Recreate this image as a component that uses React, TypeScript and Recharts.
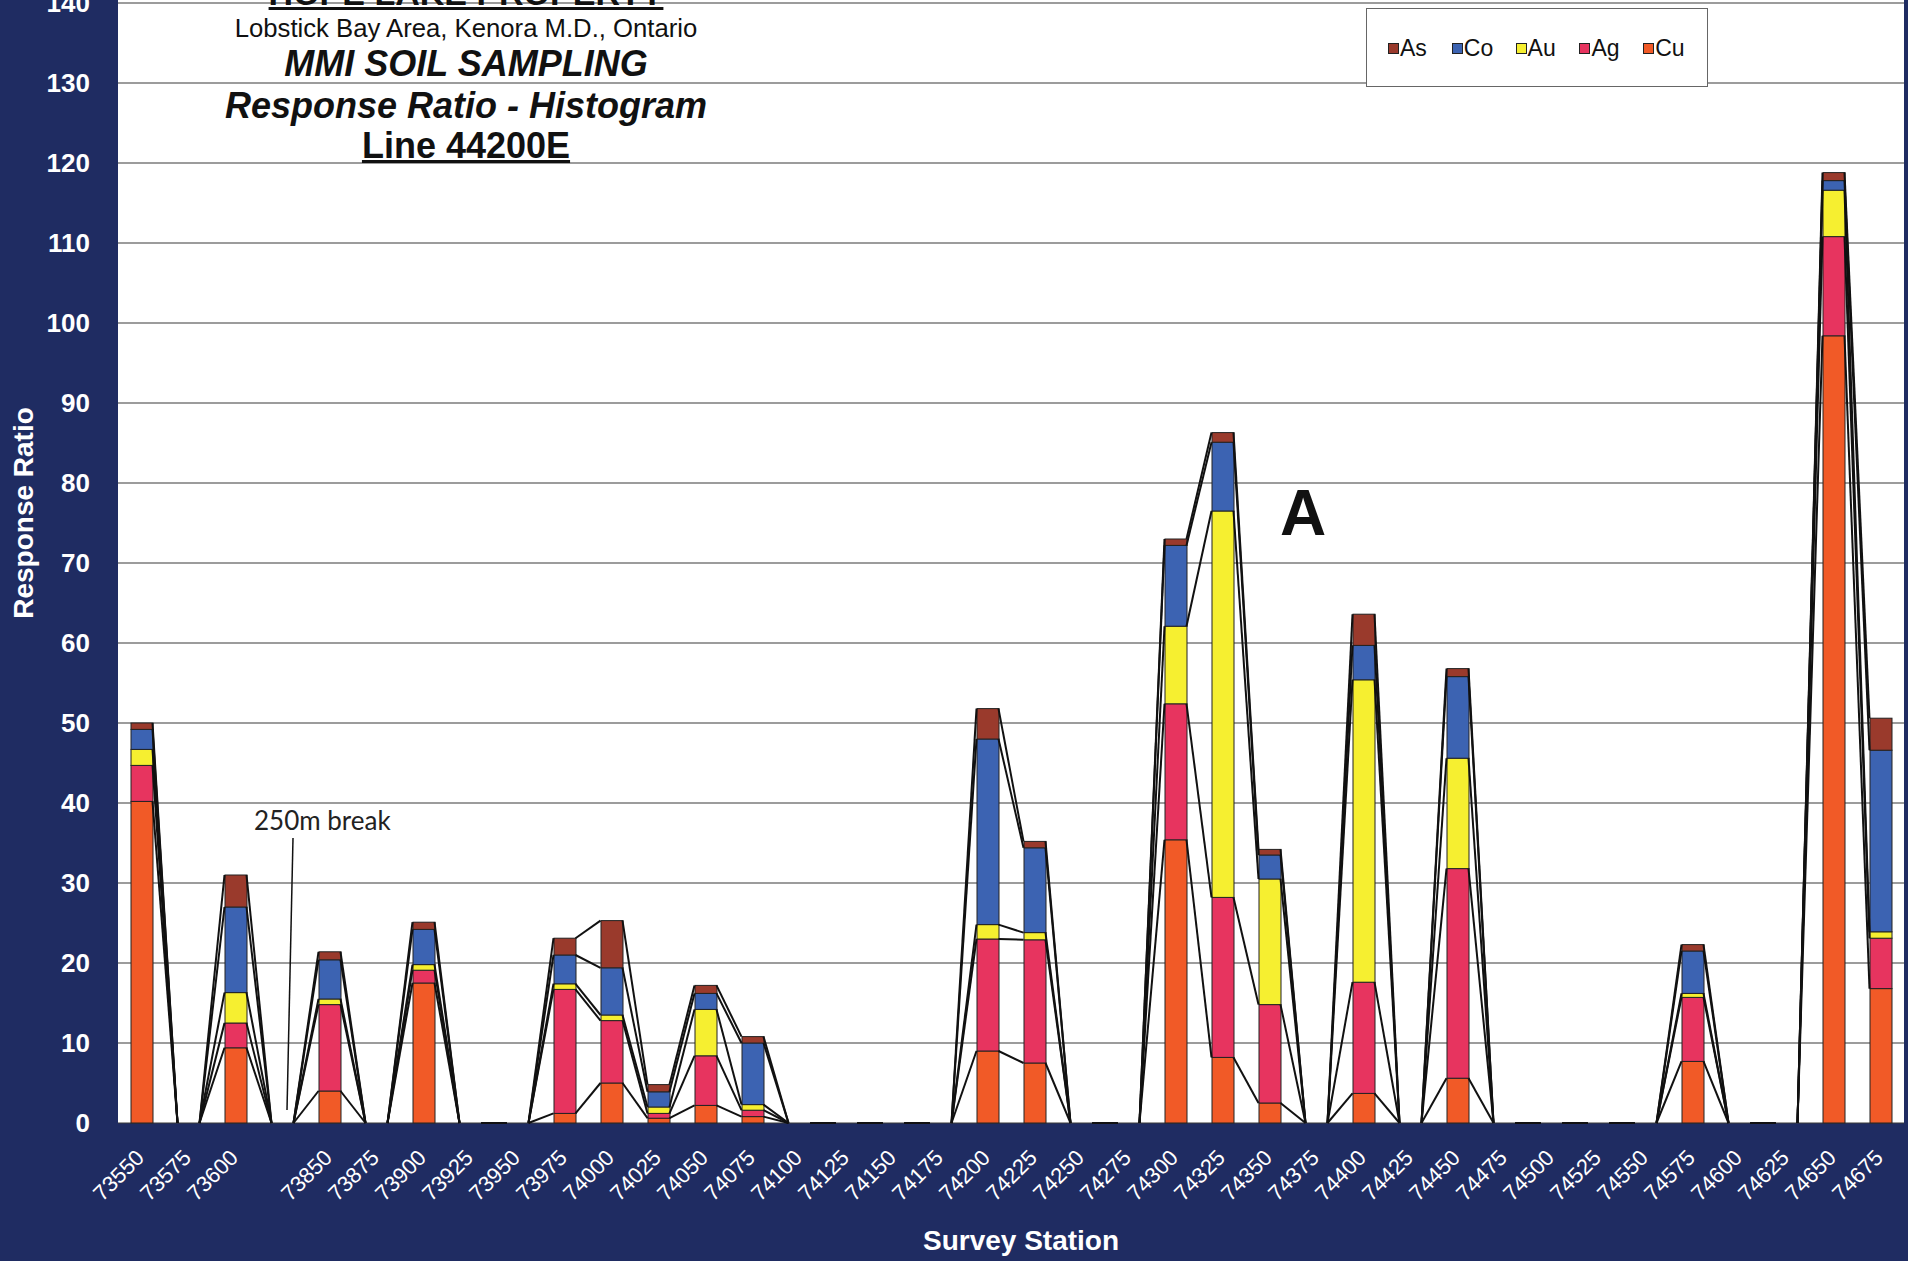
import React from 'react'
import {
  BarChart, Bar, XAxis, YAxis, CartesianGrid, Legend, ReferenceLine,
} from 'recharts'

// Survey stations along line 44200E; 'gap' is the empty slot at the 250m break
const STATIONS = [
  '73550', '73575', '73600', 'gap', '73850', '73875', '73900', '73925', '73950', '73975',
  '74000', '74025', '74050', '74075', '74100', '74125', '74150', '74175', '74200', '74225',
  '74250', '74275', '74300', '74325', '74350', '74375', '74400', '74425', '74450', '74475',
  '74500', '74525', '74550', '74575', '74600', '74625', '74650', '74675',
]

// Response ratios per element (stacked bottom → top: Cu, Ag, Au, Co, As)
const CU = [40.2, 0, 9.4, 0, 4.0, 0, 17.5, 0, 0, 1.2, 5.0, 0.6, 2.2, 0.8, 0, 0, 0, 0, 9.0, 7.5, 0, 0, 35.4, 8.2, 2.5, 0, 3.7, 0, 5.6, 0, 0, 0, 0, 7.7, 0, 0, 98.4, 16.8]
const AG = [4.5, 0, 3.1, 0, 10.8, 0, 1.6, 0, 0, 15.5, 7.8, 0.6, 6.2, 0.8, 0, 0, 0, 0, 14.0, 15.4, 0, 0, 17.0, 20.0, 12.3, 0, 13.9, 0, 26.2, 0, 0, 0, 0, 8.0, 0, 0, 12.4, 6.3]
const AU = [2.0, 0, 3.8, 0, 0.7, 0, 0.7, 0, 0, 0.7, 0.7, 0.8, 5.8, 0.7, 0, 0, 0, 0, 1.8, 0.9, 0, 0, 9.7, 48.3, 15.7, 0, 37.8, 0, 13.8, 0, 0, 0, 0, 0.5, 0, 0, 5.8, 0.8]
const CO = [2.5, 0, 10.7, 0, 4.9, 0, 4.4, 0, 0, 3.6, 5.9, 1.9, 2.0, 7.7, 0, 0, 0, 0, 23.2, 10.6, 0, 0, 10.1, 8.6, 3.0, 0, 4.3, 0, 10.2, 0, 0, 0, 0, 5.3, 0, 0, 1.2, 22.7]
const AS = [0.8, 0, 4.0, 0, 1.0, 0, 0.9, 0, 0, 2.1, 5.9, 0.9, 1.0, 0.8, 0, 0, 0, 0, 3.8, 0.8, 0, 0, 0.8, 1.2, 0.7, 0, 3.9, 0, 1.0, 0, 0, 0, 0, 0.8, 0, 0, 1.0, 4.0]

const Y_TICKS = [0, 10, 20, 30, 40, 50, 60, 70, 80, 90, 100, 110, 120, 130, 140, 150]
const LEGEND_ORDER = ['As', 'Co', 'Au', 'Ag', 'Cu']

const SERIES = [
  { key: 'Cu', values: CU, color: '#f15a27' },
  { key: 'Ag', values: AG, color: '#e7345f' },
  { key: 'Au', values: AU, color: '#f6ef30' },
  { key: 'Co', values: CO, color: '#3c63b2' },
  { key: 'As', values: AS, color: '#9a3a2c' },
]

const NAVY = '#1f2c62'
const FONT = '"Liberation Sans", Arial, sans-serif'
const BAR_SIZE = 22
const HALF = BAR_SIZE / 2

const data = STATIONS.map((station, i) => {
  const row: Record<string, string | number> = { station }
  SERIES.forEach(s => { row[s.key] = s.values[i] })
  return row
})

// cumulative top of each stacked segment, used for Excel-style series lines
const tops = SERIES.map((_, k) =>
  STATIONS.map((_, i) => SERIES.slice(0, k + 1).reduce((sum, s) => sum + s.values[i], 0)),
)

const SeriesLine = (p: any) => (
  <line x1={p.x1 + HALF} y1={p.y1} x2={p.x2 - HALF} y2={p.y2} stroke="#111" strokeWidth={2} />
)

// segments with no value are not drawn (Excel leaves them empty)
const Segment = (p: any) => {
  if (!p.height || p.height <= 0) return <g />
  return <rect x={p.x} y={p.y} width={p.width} height={p.height} fill={p.fill} stroke="#222" strokeWidth={1} />
}

const StationTick = ({ x, y, payload }: any) => {
  if (payload.value === 'gap') return <g />
  const tx = x + 4
  const ty = y + 36
  return (
    <text x={tx} y={ty} transform={`rotate(-45 ${tx} ${ty})`} textAnchor="end"
      fill="#fff" fontSize={22} fontFamily={FONT}>
      {payload.value}
    </text>
  )
}

const YTitle = (props: any) => {
  const vb = props.viewBox || { y: 23, height: 1200 }
  const cx = 23
  const cy = vb.y + vb.height / 2 - 10
  return (
    <text x={cx} y={cy} transform={`rotate(-90 ${cx} ${cy})`} textAnchor="middle"
      dominantBaseline="central" fill="#fff" fontSize={28} fontWeight="bold" fontFamily={FONT}>
      Response Ratio
    </text>
  )
}

const XTitle = (props: any) => {
  const vb = props.viewBox || { x: 118, y: 1223, width: 1786 }
  return (
    <text x={vb.x + vb.width / 2 + 10} y={vb.y + 117} textAnchor="middle"
      dominantBaseline="central" fill="#fff" fontSize={28} fontWeight="bold" fontFamily={FONT}>
      Survey Station
    </text>
  )
}

const renderLegend = ({ payload }: any) => {
  const items = [...(payload || [])].sort(
    (a: any, b: any) => LEGEND_ORDER.indexOf(a.value) - LEGEND_ORDER.indexOf(b.value),
  )
  return (
    <div style={{
      width: 342, height: 79, boxSizing: 'border-box', background: '#fff',
      border: '1.5px solid #666', display: 'flex', alignItems: 'center', paddingLeft: 21,
      paddingTop: 2, fontFamily: FONT,
    }}>
      {items.map((it: any) => (
        <div key={it.value} style={{ width: 65, display: 'flex', alignItems: 'center' }}>
          <span style={{
            display: 'inline-block', width: 9, height: 9, background: it.color,
            border: '1px solid #222', marginRight: 1,
          }} />
          <span style={{ fontSize: 23, color: '#111' }}>{it.value}</span>
        </div>
      ))}
    </div>
  )
}

const titleLine = (text: string, top: number, size: number, extra: React.CSSProperties = {}) => (
  <div style={{
    position: 'absolute', left: 66, width: 800, top, textAlign: 'center', fontSize: size,
    lineHeight: `${size}px`, fontFamily: FONT, color: '#111', whiteSpace: 'nowrap', ...extra,
  }}>{text}</div>
)

export default function App() {
  return (
    <div style={{
      position: 'fixed', left: 0, top: 0, width: 1908, height: 1261, overflow: 'hidden',
      background: NAVY,
    }}>
      <div style={{ position: 'absolute', left: 0, top: -100 }}>
        <BarChart width={1908} height={1361} data={data}
          margin={{ top: 23, right: 4, bottom: 0, left: 0 }}>
          <CartesianGrid vertical={false} fill="#fff" stroke="#3a3a3a" strokeWidth={1.2} />
          <XAxis dataKey="station" type="category" interval={0} height={138}
            axisLine={false} tickLine={false} tickSize={0} tickMargin={0}
            tick={<StationTick />} label={{ content: XTitle }} />
          <YAxis domain={[0, 150]} ticks={Y_TICKS} interval={0} width={118}
            axisLine={false} tickLine={false} tickSize={0} tickMargin={28}
            tick={{ fill: '#fff', fontSize: 26, fontWeight: 700, fontFamily: FONT }}
            label={{ content: YTitle }} />
          <Legend layout="horizontal" verticalAlign="middle" align="center"
            wrapperStyle={{ position: 'absolute', left: 1366, top: 108, width: 342, height: 79 }}
            content={renderLegend} />
          {SERIES.map(s => (
            <Bar key={s.key} dataKey={s.key} name={s.key} stackId="rr" fill={s.color}
              barSize={BAR_SIZE} shape={Segment} isAnimationActive={false} />
          ))}
          {SERIES.map((s, k) => STATIONS.slice(0, -1).map((st, i) => (
            <ReferenceLine key={`${s.key}-${st}`} ifOverflow="visible"
              segment={[{ x: st, y: tops[k][i] }, { x: STATIONS[i + 1], y: tops[k][i + 1] }]}
              shape={SeriesLine} />
          )))}
        </BarChart>
      </div>

      {titleLine('HOPE LAKE PROPERTY', -24, 34, { fontWeight: 'bold', textDecoration: 'underline' })}
      {titleLine('Lobstick Bay Area, Kenora M.D., Ontario', 16, 25.7)}
      {titleLine('MMI SOIL SAMPLING', 46, 36, { fontWeight: 'bold', fontStyle: 'italic' })}
      {titleLine('Response Ratio - Histogram', 88, 36, { fontWeight: 'bold', fontStyle: 'italic' })}
      {titleLine('Line 44200E', 128, 36, { fontWeight: 'bold', textDecoration: 'underline' })}

      <div style={{
        position: 'absolute', left: 1280, top: 481, fontSize: 64, lineHeight: '64px',
        fontWeight: 'bold', fontFamily: FONT, color: '#111',
      }}>A</div>

      <div style={{
        position: 'absolute', left: 254, top: 807, fontSize: 26, lineHeight: '26px',
        fontFamily: 'Lato, "Open Sans", sans-serif', color: '#222', whiteSpace: 'nowrap',
      }}>250m break</div>
      <svg width={1908} height={1261} style={{ position: 'absolute', left: 0, top: 0, pointerEvents: 'none' }}>
        <line x1={293} y1={838} x2={287} y2={1110} stroke="#111" strokeWidth={1.5} />
      </svg>
    </div>
  )
}
